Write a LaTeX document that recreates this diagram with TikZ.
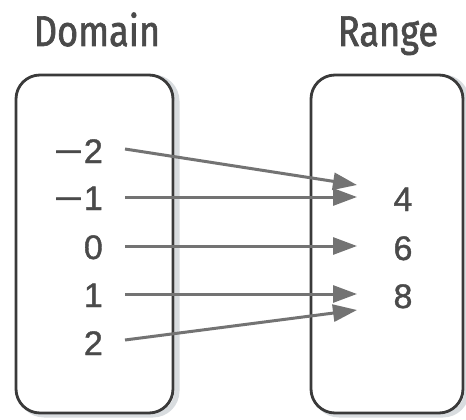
\documentclass[tikz,border=0pt]{standalone}
\usepackage{fontspec}
\setmainfont{Liberation Sans}[FakeBold=1.2]
\newfontfamily\titlefont{Fira Sans}[FakeStretch=0.84,FakeBold=1.5]
\usetikzlibrary{arrows.meta}
\definecolor{boxline}{HTML}{3A3A3A}
\definecolor{arrgray}{HTML}{737373}
\definecolor{txtgray}{HTML}{4A4A4A}
\definecolor{shadowgray}{HTML}{C8CDD2}
\newcommand{\mns}{\scalebox{1.45}[1]{−}\kern1pt}
\begin{document}
\begin{tikzpicture}[x=1pt,y=-1pt,
  setbox/.style={draw=boxline,line width=2.8pt,rounded corners=24pt,minimum width=#1,minimum height=338pt,inner sep=0pt},
  shadowbox/.style={draw=shadowgray,line width=5pt,rounded corners=24pt,minimum width=#1,minimum height=338pt,inner sep=0pt,opacity=0.7},
  titletext/.style={font=\titlefont\fontsize{43}{46}\selectfont,text=txtgray,anchor=base,inner sep=0pt},
  numtext/.style={font=\fontsize{34}{38}\selectfont,text=txtgray,inner sep=0pt},
  maparrow/.style={draw=arrgray,line width=3pt,-{Triangle[length=24pt,width=17pt]}}]
\useasboundingbox (0,0) rectangle (466,420);
% shadows
\node[shadowbox=157pt] (domshadow) at (98.5,246) {};
\node[shadowbox=152pt] (rngshadow) at (391,246) {};
% boxes
\node[setbox=157pt,fill=white] (dombox) at (94.5,244) {};
\node[setbox=152pt,fill=white] (rngbox) at (387,244) {};
% titles
\node[titletext] (domtitle) at (97,46) {Domain};
\node[titletext] (rngtitle) at (388,46) {Range};
% domain values
\node[numtext,anchor=base east] (dm2) at (103,163) {\mns2};
\node[numtext,anchor=base east] (dm1) at (103,210) {\mns1};
\node[numtext,anchor=base east] (d0) at (103,259) {0};
\node[numtext,anchor=base east] (d1) at (103,307) {1};
\node[numtext,anchor=base east] (d2) at (103,355) {2};
% range values
\node[numtext,anchor=base] (r4) at (403,211) {4};
\node[numtext,anchor=base] (r6) at (403,260) {6};
\node[numtext,anchor=base] (r8) at (403,308) {8};
% arrow start/end points
\coordinate (s1) at (125,149);
\coordinate (s2) at (125,197);
\coordinate (s3) at (125,246);
\coordinate (s4) at (125,294);
\coordinate (s5) at (125,340);
\coordinate (e1) at (357,185);
\coordinate (e2) at (357,197);
\coordinate (e3) at (357,246);
\coordinate (e4) at (357,294);
\coordinate (e5) at (357,310);
\draw[maparrow] (s1) -- (e1);
\draw[maparrow] (s2) -- (e2);
\draw[maparrow] (s3) -- (e3);
\draw[maparrow] (s4) -- (e4);
\draw[maparrow] (s5) -- (e5);
\end{tikzpicture}
\end{document}
